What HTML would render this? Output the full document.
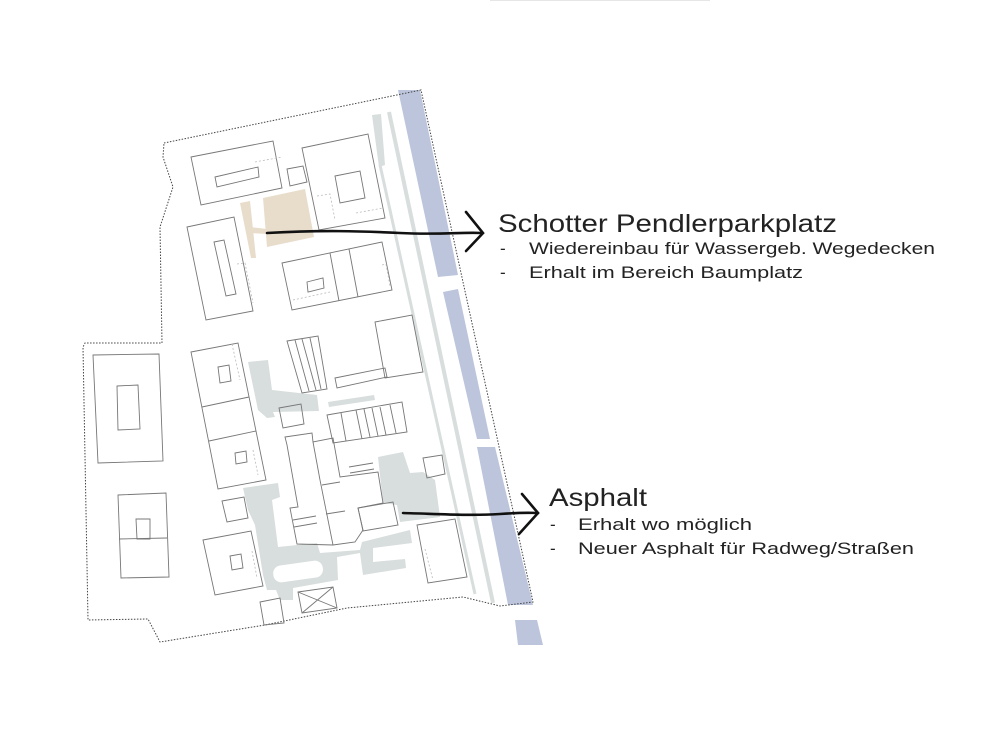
<!DOCTYPE html>
<html><head><meta charset="utf-8"><style>
html,body{margin:0;padding:0;background:#fff;}
svg{display:block;}
text{font-family:"Liberation Sans",sans-serif;fill:#222;}
</style></head><body>
<svg width="1000" height="741" viewBox="0 0 1000 741" xmlns="http://www.w3.org/2000/svg">
<line x1="490" y1="0.5" x2="710" y2="0.5" stroke="#e6e6e6" stroke-width="1"/>
<!-- blue strips -->
<g fill="#bcc5dc">
<polygon points="398,90 420,90 458,275 438,277"/>
<polygon points="443,292 458,289 490,439 477,439"/>
<polygon points="477,447 495,447 533,605 508,605"/>
<polygon points="515,620 537,620 543,645 518,645"/>
</g>
<!-- grey road lines -->
<polygon points="372,115 381,114 385,165 379,167" fill="#d8dedd"/>
<line x1="380" y1="165" x2="475" y2="594" stroke="#d8dedd" stroke-width="3"/>
<line x1="389" y1="112" x2="493" y2="603" stroke="#d8dedd" stroke-width="4"/>
<!-- boundary -->
<polyline fill="none" stroke="#444" stroke-width="1" stroke-dasharray="1.5,1.5" points="164,143 421,90 533,602 500,606 463,597 347,608 265,625 160,642 148,619 88,620 83,347 85,343 162,343 160,227 173,187 163,157 164,143"/>
<!-- grey paved -->
<g fill="#d8dedd">
<polygon points="248,362 268,360 272,390 317,395 319,411 273,412 275,417 267,418 258,410"/>
<polygon points="243,488 278,483 280,497 272,500 278,547 317,543 320,553 360,550 362,542 410,530 412,543 373,548 373,562 405,559 406,568 363,575 360,553 337,557 338,580 293,588 293,600 280,600 276,590 267,590 263,575 255,525 248,510"/>
<polygon points="378,457 403,452 410,473 423,472 435,480 440,517 400,522 397,505 383,503"/>
<polygon points="328,402 374,395 375,400 329,407"/>
</g>
<rect x="273" y="563" width="50" height="17" rx="8" fill="#fff" transform="rotate(-8 298 571)"/>
<!-- beige -->
<g fill="#e8dccb">
<polygon points="263,198 305,189 314,237 267,247"/>
<polygon points="240,203 250,201 256,258 251,258"/>
<polygon points="250,227 267,229 267,234 250,233"/>
</g>
<!-- buildings -->
<g fill="none" stroke="#777" stroke-width="0.9">
<polygon points="191,157 273,141 282,188 201,205"/>
<polygon points="215,177 258,167 259,177 217,187"/>
<polygon points="287,169 303,166 307,182 290,186"/>
<polygon points="302,148 368,134 385,218 319,230"/>
<polygon points="335,176 360,171 365,198 340,203"/>
<polygon points="187,227 234,217 253,311 206,320"/>
<polygon points="214,242 224,240 236,294 226,296"/>
<polygon points="282,263 382,242 392,290 292,310"/>
<line x1="330" y1="253" x2="339" y2="301"/><line x1="349" y1="249" x2="358" y2="297"/>
<polygon points="307,282 323,278 324,288 308,292"/>
<polygon points="375,322 412,315 423,372 385,378"/>
<polygon points="335,378 385,368 387,377 337,388"/>
<polygon points="93,355 159,354 163,461 98,463"/>
<polygon points="117,386 138,385 140,429 118,430"/>
<polygon points="118,495 166,493 169,577 121,578"/>
<line x1="119" y1="539" x2="167" y2="538"/>
<polygon points="136,519 150,519 150,539 137,539"/>
<polygon points="191,352 238,343 266,480 218,489"/>
<line x1="202" y1="407" x2="249" y2="397"/><line x1="209" y1="441" x2="256" y2="431"/>
<polygon points="218,367 229,365 231,381 220,383"/>
<polygon points="235,453 246,451 247,462 236,464"/>
<polygon points="203,540 251,531 263,586 215,595"/>
<polygon points="230,556 241,554 243,568 232,570"/>
<polygon points="222,501 244,497 248,518 227,522"/>
<polygon points="279,408 301,404 304,424 283,428"/>
<polygon points="260,602 280,598 284,623 264,625"/>
<polygon points="287,341 318,336 327,389 302,393"/>
<line x1="295" y1="340" x2="309" y2="391"/><line x1="302" y1="339" x2="316" y2="390"/><line x1="310" y1="338" x2="321" y2="389"/>
<polygon points="327,415 402,402 407,432 333,443"/>
<line x1="341" y1="413" x2="346" y2="441"/><line x1="356" y1="410" x2="362" y2="439"/><line x1="364" y1="409" x2="370" y2="437"/><line x1="372" y1="408" x2="378" y2="436"/><line x1="380" y1="407" x2="386" y2="435"/><line x1="390" y1="405" x2="396" y2="433"/>
<polygon points="285,437 312,433 313,442 333,438 340,477 378,472 383,503 358,508 363,530 355,542 333,545 297,544 290,508 298,507 287,445"/>
<line x1="313" y1="442" x2="320" y2="480"/><line x1="320" y1="480" x2="333" y2="545"/>
<line x1="322" y1="485" x2="340" y2="482"/><line x1="326" y1="514" x2="345" y2="511"/>
<line x1="293" y1="520" x2="316" y2="516"/><line x1="294" y1="527" x2="317" y2="523"/>
<line x1="349" y1="467" x2="373" y2="463"/><line x1="350" y1="473" x2="374" y2="469"/>
<polygon points="358,508 393,502 398,525 363,531"/>
<polygon points="423,458 442,455 445,474 427,478"/>
<polygon points="417,525 455,519 467,577 428,583"/>
<polygon points="298,592 333,587 337,608 302,613"/>
<line x1="298" y1="592" x2="337" y2="608"/><line x1="333" y1="587" x2="302" y2="613"/>
</g>
<g fill="none" stroke="#bbb" stroke-width="0.8" stroke-dasharray="2,2">
<polyline points="255,162 282,157"/>
<polyline points="317,196 330,194 335,220"/>
<polyline points="356,213 383,208"/>
<polyline points="237,264 245,263 253,303"/>
<polyline points="293,300 330,292"/>
<polyline points="382,265 386,264 390,286"/>
<polyline points="232,344 240,380"/>
<polyline points="253,450 258,475"/>
<polyline points="252,551 257,578"/>
<polyline points="425,549 433,580"/>
</g>
<!-- arrows -->
<g fill="none" stroke="#111" stroke-width="2.6" stroke-linecap="round">
<path d="M267,233 C320,230 360,231 400,233 S460,232 482,233"/>
<path d="M466,212 L483,233 L466,251"/>
<path d="M403,513 C440,514 470,516 500,514 S530,513 538,513"/>
<path d="M522,494 L538,513 L519,534"/>
</g>
<!-- text -->
<text x="498" y="232" font-size="25" textLength="339" lengthAdjust="spacingAndGlyphs">Schotter Pendlerparkplatz</text>
<text x="500" y="254" font-size="17">-</text>
<text x="529" y="254" font-size="17" textLength="406" lengthAdjust="spacingAndGlyphs">Wiedereinbau für Wassergeb. Wegedecken</text>
<text x="500" y="278" font-size="17">-</text>
<text x="529" y="278" font-size="17" textLength="274" lengthAdjust="spacingAndGlyphs">Erhalt im Bereich Baumplatz</text>
<text x="549" y="506" font-size="25" textLength="98" lengthAdjust="spacingAndGlyphs">Asphalt</text>
<text x="550" y="530" font-size="17">-</text>
<text x="578" y="530" font-size="17" textLength="174" lengthAdjust="spacingAndGlyphs">Erhalt wo möglich</text>
<text x="550" y="554" font-size="17">-</text>
<text x="578" y="554" font-size="17" textLength="336" lengthAdjust="spacingAndGlyphs">Neuer Asphalt für Radweg/Straßen</text>
</svg>
</body></html>
